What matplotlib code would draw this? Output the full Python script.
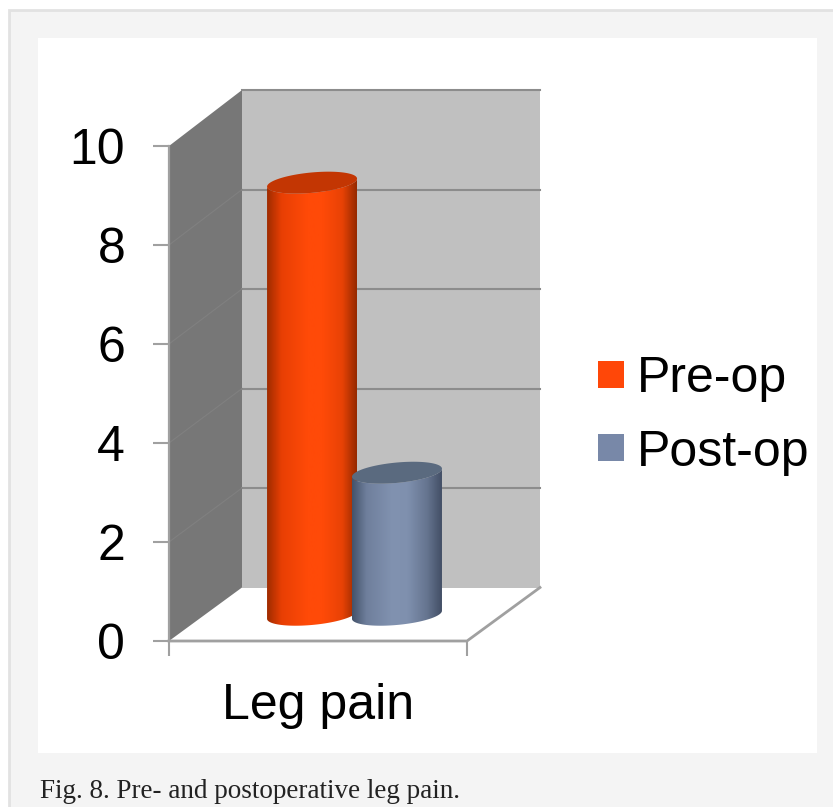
#!/usr/bin/env python3

import matplotlib
matplotlib.use('Agg')

import matplotlib.pyplot as plt
import numpy as np
from matplotlib.patches import Patch, Polygon, Rectangle


FIG_W, FIG_H = 833, 807

CATEGORY = "Leg pain"
SERIES = ["Pre-op", "Post-op"]
VALUES = [8.73, 2.87]
Y_TICKS = [0, 2, 4, 6, 8, 10]
CAPTION = "Fig. 8. Pre- and postoperative leg pain."

LEGEND_COLORS = ['#ff4708', '#7888a8']
TOP_COLORS = ['#c33603', '#5a6a7f']
BAR_STOPS = [
    ['#a02c00', '#e83f04', '#ff4a08', '#ff4a08', '#e84205', '#962a00'],
    ['#44536b', '#6f7f9c', '#8192b0', '#7f90ae', '#65748f', '#434f66'],
]
STOP_POS = [0, 0.16, 0.45, 0.62, 0.84, 1]

# 3d look, in data units of the front plane
DEPTH_X = 73 / 298
DEPTH_Y = 53.5 / 49.5
BACK_SCALE = 1.005
BAR_CENTERS = [0.48, 0.765]
BAR_A = 0.151
BAR_B = 0.206
BAR_SHEAR = 0.081
BAR_BASE = 0.53

GRID = '#8c8c8c'
EDGE = '#a0a0a0'

plt.rcParams['font.family'] = ['Liberation Sans', 'DejaVu Sans']


def hex_rgb(col):
    return [int(col[i:i + 2], 16) / 255 for i in (1, 3, 5)]


def gradient(stops):
    xs = np.linspace(0, 1, 128)
    rgb = np.array([hex_rgb(c) for c in stops])
    return np.stack([np.interp(xs, STOP_POS, rgb[:, k]) for k in range(3)], axis=-1)[None, :, :]


def ellipse_y(t, cy):
    return cy + BAR_SHEAR * np.cos(t) + BAR_B * np.sin(t)


def draw_bar(ax, cx, value, stops, top_color, z):
    base = BAR_BASE
    top = BAR_BASE + value

    # lower half of the base, then back over the lower half of the top
    t_low = np.linspace(np.pi, 2 * np.pi, 80)
    xs = cx + BAR_A * np.cos(t_low)
    body = list(zip(xs, ellipse_y(t_low, base))) + list(zip(xs[::-1], ellipse_y(t_low, top)[::-1]))
    patch = Polygon(body, closed=True, facecolor='none', edgecolor='none', zorder=z)
    ax.add_patch(patch)

    im = ax.imshow(gradient(stops), extent=(cx - BAR_A, cx + BAR_A, base - 1, top + 1),
                   aspect='auto', zorder=z, interpolation='bilinear')
    im.set_clip_path(patch)

    t = np.linspace(0, 2 * np.pi, 160)
    cap = Polygon(list(zip(cx + BAR_A * np.cos(t), ellipse_y(t, top))), closed=True,
                  facecolor=top_color, edgecolor='none', zorder=z + 0.1)
    ax.add_patch(cap)


def main():
    fig = plt.figure(figsize=(FIG_W / 100, FIG_H / 100), dpi=100, facecolor='white')

    # page behind the chart, in pixels
    page = fig.add_axes([0, 0, 1, 1], zorder=0)
    page.set_xlim(0, FIG_W)
    page.set_ylim(FIG_H, 0)
    page.axis('off')
    page.add_patch(Rectangle((9, 10), FIG_W, FIG_H, facecolor='#f4f4f4', edgecolor='#e2e2e2', linewidth=2))
    page.add_patch(Rectangle((38, 38), 779, 715, facecolor='white', edgecolor='none'))
    page.text(40, 791, CAPTION, family=['Liberation Serif'], fontsize=19.5, color='#222222',
              va='center', ha='left')

    ax = fig.add_axes([169 / FIG_W, (FIG_H - 641) / FIG_H, 298 / FIG_W, 495 / FIG_H], zorder=1)
    ax.patch.set_visible(False)
    for side in ax.spines:
        ax.spines[side].set_visible(False)

    dx, dy = DEPTH_X, DEPTH_Y
    back_top = 10 * BACK_SCALE + dy
    ax.add_patch(Polygon([(0, 0), (dx, dy), (dx, back_top), (0, 10)], closed=True,
                         facecolor='#777777', edgecolor='none', zorder=1, clip_on=False))
    ax.add_patch(Rectangle((dx, dy), 1, back_top - dy, facecolor='#c0c0c0', edgecolor='none',
                           zorder=1, clip_on=False))

    for v in Y_TICKS[1:]:
        back_y = v * BACK_SCALE + dy
        ax.plot([dx, 1 + dx], [back_y, back_y], color=GRID, lw=1.5, zorder=2, clip_on=False)
    for v in Y_TICKS[1:-1]:
        ax.plot([0, dx], [v, v * BACK_SCALE + dy], color='#808080', lw=0.8, zorder=2, clip_on=False)

    # floor and axis lines
    ax.plot([0, 1, 1 + dx], [0, 0, dy], color=EDGE, lw=2, zorder=3, clip_on=False)
    ax.plot([0, 0], [0, 10], color=EDGE, lw=1.6, zorder=3, clip_on=False)

    for i in range(len(SERIES)):
        draw_bar(ax, BAR_CENTERS[i], VALUES[i], BAR_STOPS[i], TOP_COLORS[i], 4 + i)

    ax.set_xlim(0, 1)
    ax.set_ylim(0, 10)

    ax.set_yticks(Y_TICKS)
    ax.tick_params(axis='y', length=11.5, width=1.5, color=EDGE, labelsize=36, pad=20)
    ax.set_xticks([0, 1], ['', ''])
    ax.tick_params(axis='x', which='major', length=11, width=1.5, color=EDGE)
    ax.set_xticks([0.5], [CATEGORY], minor=True)
    ax.tick_params(axis='x', which='minor', length=0, labelsize=36, pad=30)

    handles = [Patch(facecolor=c, edgecolor='none') for c in LEGEND_COLORS]
    fig.legend(handles, SERIES, loc='upper left', bbox_to_anchor=(590 / FIG_W, 1 - 349 / FIG_H),
               frameon=False, fontsize=36, handlelength=0.52, handleheight=0.47,
               handletextpad=0.26, labelspacing=0.54, borderpad=0.15, borderaxespad=0)

    plt.savefig('out.png', dpi=100)
    plt.close()


if __name__ == "__main__":
    main()
